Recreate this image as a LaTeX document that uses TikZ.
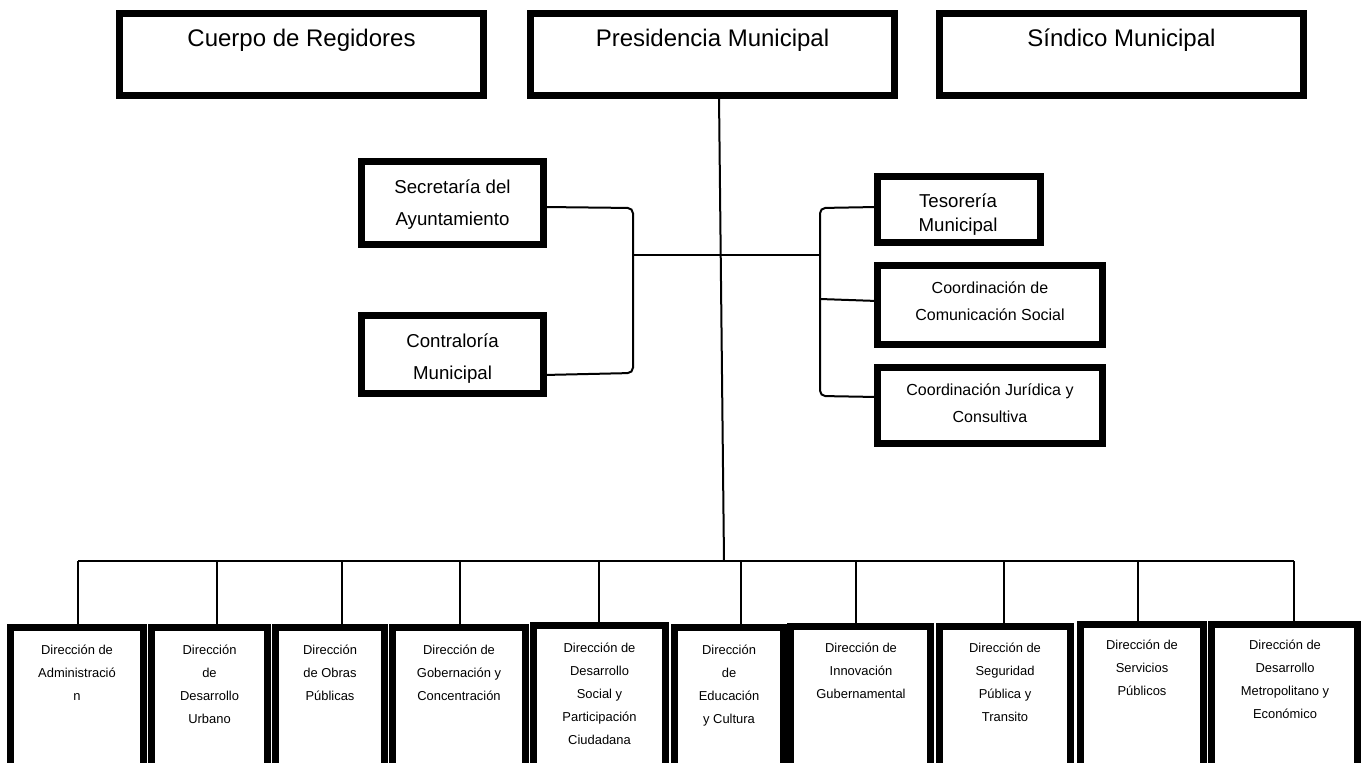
\documentclass[tikz,border=0pt]{standalone}
\usepackage{fontspec}
\setmainfont{Liberation Sans}
\usetikzlibrary{fit,calc}
\begin{document}
\begin{tikzpicture}[x=0.75pt,y=-0.75pt,
  frame/.style={draw=black, line width=4.9pt, inner sep=0pt, outer sep=0pt},
  wire/.style={draw=black, line width=1.5pt},
  elbow/.style={wire, rounded corners=4pt},
  headtext/.style={inner sep=0pt, anchor=base, font=\fontsize{18}{22}\selectfont},
  midtext/.style={inner sep=0pt, align=center, anchor=north, font=\fontsize{14}{24}\selectfont},
  tightmid/.style={inner sep=0pt, align=center, anchor=north, font=\fontsize{14}{18}\selectfont},
  smalltext/.style={inner sep=0pt, align=center, anchor=north, font=\fontsize{12}{20.25}\selectfont},
  dirtext/.style={inner sep=0pt, align=center, anchor=north, font=\fontsize{9.7}{17.25}\selectfont}
]
\clip (0,0) rectangle (1361,763);
\fill[white] (0,0) rectangle (1361,763);

% ---- top level
\node[frame, fit={(119.25,13.25) (483.75,95.75)}] (cr) {};
\node[frame, fit={(530.25,13.25) (894.75,95.75)}] (pm) {};
\node[frame, fit={(939.25,13.25) (1303.75,95.75)}] (sm) {};

% ---- staff units
\node[frame, fit={(361.25,161.25) (543.75,244.75)}] (sa) {};
\node[frame, fit={(361.25,315.25) (543.75,393.75)}] (cm) {};
\node[frame, fit={(877.25,176.25) (1040.75,242.75)}] (tm) {};
\node[frame, fit={(877.25,265.25) (1102.75,344.75)}] (ccs) {};
\node[frame, fit={(877.25,367.25) (1102.75,443.75)}] (cjc) {};

% ---- directorates
\node[frame, fit={(10.25,627.25) (143.75,776.75)}] (b1) {};
\node[frame, fit={(151.25,627.25) (267.75,776.75)}] (b2) {};
\node[frame, fit={(275.25,627.25) (384.75,776.75)}] (b3) {};
\node[frame, fit={(392.25,627.25) (525.75,776.75)}] (b4) {};
\node[frame, fit={(533.25,625.25) (665.75,776.75)}] (b5) {};
\node[frame, fit={(674.25,627.25) (783.75,776.75)}] (b6) {};
\node[frame, fit={(790.25,626.25) (930.75,776.75)}] (b7) {};
\node[frame, fit={(939.25,626.25) (1070.75,776.75)}] (b8) {};
\node[frame, fit={(1080.25,624.25) (1203.75,776.75)}] (b9) {};
\node[frame, fit={(1211.25,624.25) (1357.75,776.75)}] (b10) {};

% ---- labels
\node[headtext] (cr-t) at (301.5,46.5) {Cuerpo de Regidores};
\node[headtext] (pm-t) at (712.5,46.5) {Presidencia Municipal};
\node[headtext] (sm-t) at (1121.5,46.5) {Síndico Municipal};

\node[midtext] (sa-t) at (452.5,179) {Secretaría del\\Ayuntamiento};
\node[midtext] (cm-t) at (452.5,333) {Contraloría\\Municipal};
\node[tightmid] (tm-t) at (958,193) {Tesorería\\Municipal};
\node[smalltext] (ccs-t) at (990,281.5) {Coordinación de\\Comunicación Social};
\node[smalltext] (cjc-t) at (990,383.5) {Coordinación Jurídica y\\Consultiva};

\node[dirtext] (b1-t) at (77,644.5) {Dirección de\\Administració\\n};
\node[dirtext] (b2-t) at (209.5,644.5) {Dirección\\de\\Desarrollo\\Urbano};
\node[dirtext] (b3-t) at (330,644.5) {Dirección\\de Obras\\Públicas};
\node[dirtext] (b4-t) at (459,644.5) {Dirección de\\Gobernación y\\Concentración};
\node[dirtext] (b5-t) at (599.5,642.5) {Dirección de\\Desarrollo\\Social y\\Participación\\Ciudadana};
\node[dirtext] (b6-t) at (729,644.5) {Dirección\\de\\Educación\\y Cultura};
\node[dirtext] (b7-t) at (861,642.5) {Dirección de\\Innovación\\Gubernamental};
\node[dirtext] (b8-t) at (1005,643) {Dirección de\\Seguridad\\Pública y\\Transito};
\node[dirtext] (b9-t) at (1142,640) {Dirección de\\Servicios\\Públicos};
\node[dirtext] (b10-t) at (1285,640) {Dirección de\\Desarrollo\\Metropolitano y\\Económico};

% ---- trunk and side brackets
\coordinate (hub) at (724,561);
\coordinate (lspine) at (633,255);
\coordinate (rspine) at (820,255);
\draw[wire] ($(pm.south)+(6.5,0)$) -- (hub);
\draw[wire] (lspine) -- (rspine);
\draw[elbow] (sa.east |- 0,207) -- (633,208) -- (633,373) -- (cm.east |- 0,375);
\draw[elbow] (tm.west |- 0,207) -- (820,208) -- (820,396) -- (cjc.west |- 0,397);
\draw[wire] (820,299) -- (ccs.west |- 0,301);

% ---- bus to the directorates
\coordinate (d1) at (78,561);
\coordinate (d2) at (217,561);
\coordinate (d3) at (342,561);
\coordinate (d4) at (460,561);
\coordinate (d5) at (599,561);
\coordinate (d6) at (741,561);
\coordinate (d7) at (856,561);
\coordinate (d8) at (1004,561);
\coordinate (d9) at (1138,561);
\coordinate (d10) at (1294,561);
\draw[wire] (d1) -- (d10);
\foreach \i in {1,...,10}{
  \draw[wire] (d\i) -- (d\i |- b\i.north);
}
\end{tikzpicture}
\end{document}
